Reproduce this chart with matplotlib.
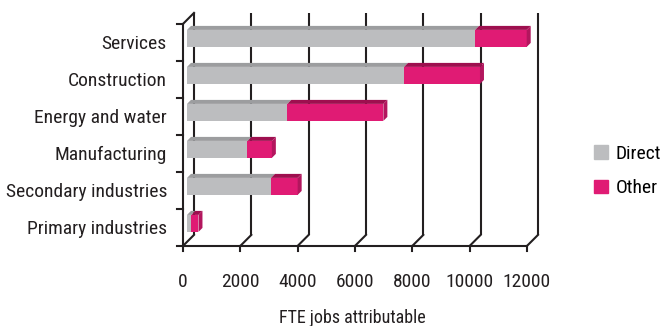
import matplotlib
matplotlib.use('Agg')
import matplotlib.pyplot as plt
from matplotlib.patches import Polygon, Patch

categories = ['Primary industries', 'Secondary industries', 'Manufacturing',
              'Energy and water', 'Construction', 'Services']
direct = [150, 2930, 2110, 3500, 7570, 10050]
other = [250, 930, 850, 3350, 2650, 1800]
xticks = [0, 2000, 4000, 6000, 8000, 10000, 12000]

plt.rcParams['font.family'] = ['Roboto Condensed', 'Archivo Narrow', 'DejaVu Sans']
FS = 14

# pseudo-3D layout (pixels)
W, H = 661, 326
X0_PX, Y0_PX = 183, 227.4   # value 0 / first category centre on the front plane
SX = 344 / 12000            # px per job
SY = 37.0                   # px per category
DEPTH = 11                  # floor depth in px
BAR_FRONT, BAR_BACK = 4, 8
BAR_H = 17 / SY
LINE = '#231f20'


def proj(v, y, d):
    return v + d / SX, y + d / SY


xlim = (-600, 12600)
ylim = (-0.75, 5.95)
left_px = X0_PX + xlim[0] * SX
right_px = X0_PX + xlim[1] * SX
bot_px = Y0_PX - ylim[0] * SY
top_px = Y0_PX - ylim[1] * SY

fig = plt.figure(figsize=(W / 100, H / 100), dpi=100)
ax = fig.add_axes([left_px / W, 1 - bot_px / H, (right_px - left_px) / W, (bot_px - top_px) / H])
ax.set_xlim(*xlim)
ax.set_ylim(*ylim)
ax.axis('off')

n = len(categories)
lw = 1.5

# back wall gridlines and floor
for t in xticks:
    x, y0 = proj(t, -0.5, DEPTH)
    _, y1 = proj(t, n - 0.5, DEPTH)
    ax.plot([x, x], [y0, y1], color=LINE, lw=lw, zorder=1, solid_capstyle='butt')
    fx, fy = proj(t, -0.5, 0)
    ax.plot([fx, x], [fy, y0], color=LINE, lw=lw, zorder=1)
    ax.plot([fx, fx], [fy, fy - 5 / SY], color=LINE, lw=lw, zorder=1)
    ax.text(fx, fy - 36 / SY, f'{t}', ha='center', va='center', fontsize=FS, color=LINE)

ax.plot([0, xticks[-1]], [-0.5, -0.5], color=LINE, lw=lw, zorder=2)

# left axis
ax.plot([0, 0], [-0.5, n - 0.5], color=LINE, lw=lw, zorder=2)
tx, ty = proj(0, n - 0.5, DEPTH)
ax.plot([0, tx], [n - 0.5, ty], color=LINE, lw=lw, zorder=2)
for k in range(n + 1):
    ax.plot([-6 / SX, 0], [k - 0.5, k - 0.5], color=LINE, lw=lw, zorder=2)

for i, c in enumerate(categories):
    ax.text(-16 / SX, i - 2 / SY, c, ha='right', va='center', fontsize=FS, color=LINE)

# bars
styles = [('#bcbdbf', '#9c9d9f', '#a8a9ab'), ('#e01b74', '#9e0f4f', '#b3165e')]
for i in range(n):
    segs = [(0, direct[i]), (direct[i], direct[i] + other[i])]
    for (a, b), (front, top, side) in zip(segs, styles):
        fx, fy = proj(a, i, BAR_FRONT)
        ax.barh(fy, b - a, left=fx, height=BAR_H, color=front, zorder=3, linewidth=0)
        yt = i + BAR_H / 2
        pts = [proj(a, yt, BAR_FRONT), proj(b, yt, BAR_FRONT),
               proj(b, yt, BAR_BACK), proj(a, yt, BAR_BACK)]
        ax.add_patch(Polygon(pts, closed=True, color=top, lw=0, zorder=3))
    b = direct[i] + other[i]
    yb = i - BAR_H / 2
    pts = [proj(b, yb, BAR_FRONT), proj(b, yt, BAR_FRONT),
           proj(b, yt, BAR_BACK), proj(b, yb, BAR_BACK)]
    ax.add_patch(Polygon(pts, closed=True, color=styles[1][2], lw=0, zorder=3))

fig.text(352 / W, 1 - 318 / H, 'FTE jobs attributable', ha='center', va='center',
         fontsize=13, color=LINE)

fig.legend(handles=[Patch(color=styles[0][0]), Patch(color=styles[1][0])],
           labels=['Direct', 'Other'], loc='center left',
           bbox_to_anchor=(594 / W, 1 - 171 / H), frameon=False,
           borderpad=0, borderaxespad=0,
           handlelength=0.7, handleheight=0.7, labelspacing=0.85,
           handletextpad=0.4, fontsize=FS)

fig.savefig('out.png', dpi=100)
